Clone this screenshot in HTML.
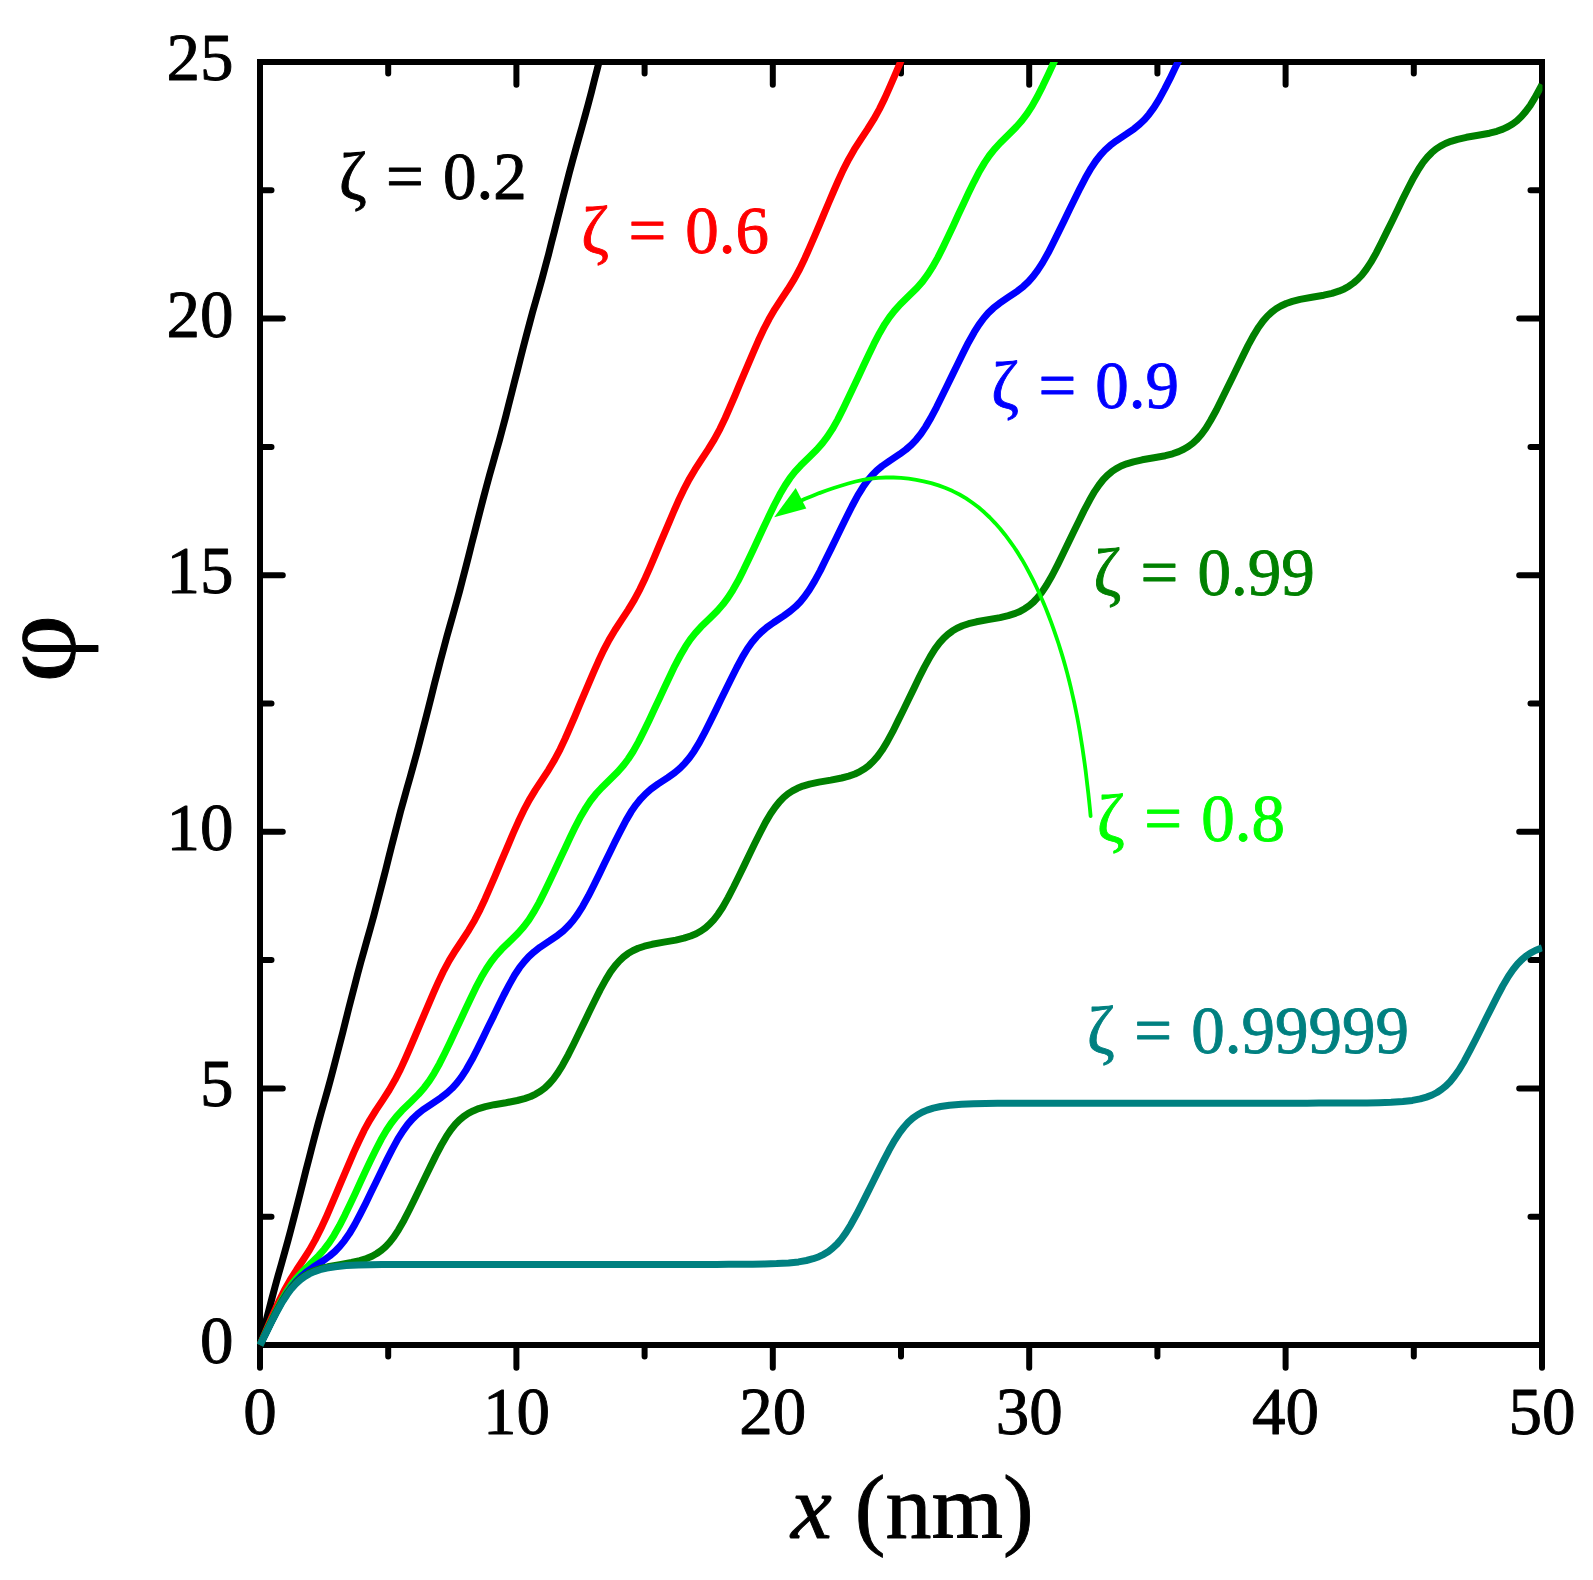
<!DOCTYPE html><html><head><meta charset="utf-8"><title>plot</title><style>html,body{margin:0;padding:0;background:#fff}svg{display:block}</style></head><body><svg width="1593" height="1580" viewBox="0 0 1593 1580">
<rect width="1593" height="1580" fill="#fff"/>
<rect x="260.0" y="62.0" width="1282.0" height="1283.0" fill="none" stroke="#000" stroke-width="6.0" stroke-linejoin="miter" shape-rendering="crispEdges"/>
<path d="M260.0,1345.0 v22.8 M260.0,62.0 v22.8 M388.2,1345.0 v11.5 M388.2,62.0 v11.5 M516.4,1345.0 v22.8 M516.4,62.0 v22.8 M644.6,1345.0 v11.5 M644.6,62.0 v11.5 M772.8,1345.0 v22.8 M772.8,62.0 v22.8 M901.0,1345.0 v11.5 M901.0,62.0 v11.5 M1029.2,1345.0 v22.8 M1029.2,62.0 v22.8 M1157.4,1345.0 v11.5 M1157.4,62.0 v11.5 M1285.6,1345.0 v22.8 M1285.6,62.0 v22.8 M1413.8,1345.0 v11.5 M1413.8,62.0 v11.5 M1542.0,1345.0 v22.8 M1542.0,62.0 v22.8 M260.0,1345.0 h22.8 M1542.0,1345.0 h-22.8 M260.0,1216.7 h11.5 M1542.0,1216.7 h-11.5 M260.0,1088.4 h22.8 M1542.0,1088.4 h-22.8 M260.0,960.1 h11.5 M1542.0,960.1 h-11.5 M260.0,831.8 h22.8 M1542.0,831.8 h-22.8 M260.0,703.5 h11.5 M1542.0,703.5 h-11.5 M260.0,575.2 h22.8 M1542.0,575.2 h-22.8 M260.0,446.9 h11.5 M1542.0,446.9 h-11.5 M260.0,318.6 h22.8 M1542.0,318.6 h-22.8 M260.0,190.3 h11.5 M1542.0,190.3 h-11.5 M260.0,62.0 h22.8 M1542.0,62.0 h-22.8" stroke="#000" stroke-width="6.0" stroke-linecap="round" fill="none"/>
<clipPath id="c"><rect x="257.0" y="62.0" width="1285.5" height="1286.0"/></clipPath>
<g clip-path="url(#c)" fill="none" stroke-linejoin="round" stroke-linecap="butt">
<path d="M260.0,1345.0 L262.9,1333.4 L265.9,1321.7 L268.9,1310.1 L271.9,1298.5 L275.0,1286.9 L278.2,1275.3 L281.5,1263.8 L284.7,1252.2 L287.9,1240.7 L291.0,1229.1 L294.0,1217.5 L297.0,1205.8 L300.0,1194.2 L302.9,1182.6 L305.8,1170.9 L308.8,1159.3 L311.8,1147.7 L314.8,1136.1 L317.9,1124.5 L321.1,1112.9 L324.4,1101.4 L327.7,1089.8 L330.8,1078.3 L333.9,1066.7 L336.9,1055.0 L339.9,1043.4 L342.9,1031.8 L345.8,1020.2 L348.7,1008.5 L351.7,996.9 L354.7,985.3 L357.7,973.7 L360.8,962.1 L364.1,950.5 L367.3,939.0 L370.6,927.4 L373.8,915.8 L376.8,904.2 L379.8,892.6 L382.8,881.0 L385.8,869.4 L388.7,857.7 L391.6,846.1 L394.6,834.5 L397.6,822.9 L400.6,811.2 L403.8,799.7 L407.0,788.1 L410.3,776.6 L413.5,765.0 L416.7,753.4 L419.7,741.8 L422.7,730.2 L425.7,718.6 L428.7,706.9 L431.6,695.3 L434.5,683.7 L437.5,672.1 L440.5,660.4 L443.6,648.8 L446.7,637.2 L449.9,625.7 L453.2,614.1 L456.4,602.6 L459.6,591.0 L462.6,579.4 L465.6,567.8 L468.6,556.2 L471.5,544.5 L474.5,532.9 L477.4,521.3 L480.4,509.6 L483.4,498.0 L486.5,486.4 L489.6,474.8 L492.9,463.3 L496.1,451.7 L499.4,440.2 L502.5,428.6 L505.6,417.0 L508.5,405.4 L511.5,393.7 L514.4,382.1 L517.4,370.5 L520.3,358.8 L523.3,347.2 L526.3,335.6 L529.4,324.0 L532.5,312.4 L535.8,300.9 L539.1,289.3 L542.3,277.8 L545.4,266.2 L548.5,254.6 L551.4,242.9 L554.4,231.3 L557.3,219.7 L560.3,208.0 L563.2,196.4 L566.2,184.8 L569.2,173.2 L572.3,161.6 L575.5,150.0 L578.7,138.5 L582.0,126.9 L585.2,115.3 L588.3,103.8 L591.4,92.1 L594.3,80.5 L597.3,68.9 L600.2,57.3 L603.2,45.6 L606.1,34.0 L606.7,32.0" stroke="#000000" stroke-width="7.0"/>
<path d="M260.0,1345.0 L264.7,1333.9 L269.4,1322.9 L274.1,1311.9 L279.1,1301.0 L284.4,1290.2 L290.1,1280.2 L296.5,1270.0 L303.1,1260.0 L309.6,1249.9 L315.2,1239.9 L320.6,1229.2 L325.7,1218.3 L330.4,1207.3 L335.1,1196.3 L339.8,1185.2 L344.5,1174.2 L349.2,1163.1 L353.9,1152.1 L358.9,1141.2 L364.1,1130.4 L369.7,1120.3 L376.0,1110.1 L382.7,1100.1 L389.2,1090.0 L394.9,1080.1 L400.4,1069.4 L405.4,1058.5 L410.2,1047.5 L414.9,1036.5 L419.6,1025.4 L424.3,1014.4 L429.0,1003.3 L433.7,992.3 L438.6,981.4 L443.8,970.6 L449.3,960.4 L455.6,950.2 L462.2,940.2 L468.8,930.1 L474.6,920.2 L480.1,909.6 L485.2,898.7 L490.0,887.7 L494.8,876.7 L499.4,865.7 L504.1,854.6 L508.8,843.6 L513.5,832.5 L518.4,821.6 L523.6,810.7 L529.2,800.1 L535.4,789.9 L542.0,779.9 L548.6,769.8 L554.5,759.9 L560.1,749.3 L565.2,738.5 L570.0,727.5 L574.8,716.5 L579.4,705.4 L584.1,694.4 L588.8,683.3 L593.5,672.3 L598.4,661.3 L603.5,650.5 L609.1,639.9 L615.0,630.0 L621.6,619.9 L628.2,609.9 L634.4,599.6 L640.0,589.1 L645.2,578.2 L650.0,567.3 L654.8,556.2 L659.4,545.2 L664.1,534.1 L668.8,523.1 L673.5,512.0 L678.3,501.1 L683.5,490.2 L689.0,479.6 L694.9,469.7 L701.4,459.6 L708.0,449.6 L714.3,439.4 L720.0,428.8 L725.2,418.0 L730.0,407.0 L734.8,396.0 L739.4,384.9 L744.1,373.9 L748.8,362.8 L753.5,351.8 L758.3,340.8 L763.4,329.9 L768.9,319.3 L774.7,309.3 L781.2,299.3 L787.9,289.3 L794.2,279.1 L799.7,269.0 L804.9,258.2 L809.8,247.2 L814.6,236.2 L819.3,225.1 L823.9,214.1 L828.6,203.0 L833.3,192.0 L838.1,181.0 L843.1,170.1 L848.6,159.4 L854.3,149.4 L860.8,139.3 L867.4,129.4 L873.8,119.2 L879.4,109.1 L884.7,98.4 L889.6,87.4 L894.4,76.4 L899.1,65.4 L903.7,54.3 L908.4,43.3 L913.1,32.2 L913.2,32.0" stroke="#ff0000" stroke-width="7.0"/>
<path d="M260.0,1345.0 L265.1,1334.1 L270.2,1323.3 L275.4,1312.5 L280.9,1301.8 L286.1,1292.7 L291.1,1285.2 L295.9,1278.8 L301.6,1272.5 L310.2,1264.1 L318.7,1255.6 L324.3,1249.2 L329.1,1242.9 L334.0,1235.3 L339.4,1225.8 L344.9,1215.1 L350.1,1204.2 L355.2,1193.4 L360.2,1182.5 L365.3,1171.6 L370.4,1160.8 L375.7,1150.0 L381.2,1139.3 L386.5,1130.3 L391.2,1123.2 L396.2,1116.9 L401.9,1110.6 L410.5,1102.2 L418.6,1094.1 L424.2,1087.7 L429.3,1080.9 L434.1,1073.3 L439.5,1063.7 L444.9,1053.0 L450.1,1042.2 L455.2,1031.3 L460.3,1020.5 L465.4,1009.6 L470.5,998.7 L475.7,987.9 L481.3,977.3 L486.4,968.7 L491.1,961.7 L496.1,955.4 L501.8,949.1 L510.4,940.7 L518.2,933.0 L523.8,926.6 L528.9,919.8 L533.7,912.2 L539.1,902.6 L544.5,891.9 L549.7,881.1 L554.8,870.2 L559.9,859.3 L565.0,848.5 L570.1,837.6 L575.3,826.8 L580.9,816.2 L586.0,807.6 L590.7,800.5 L595.7,794.2 L601.4,788.0 L610.0,779.6 L617.8,771.8 L623.4,765.4 L628.2,759.0 L633.1,751.5 L638.5,741.9 L643.9,731.2 L649.1,720.4 L654.2,709.5 L659.3,698.7 L664.4,687.8 L669.5,676.9 L674.7,666.1 L680.3,655.5 L685.6,646.4 L690.3,639.4 L695.3,633.1 L701.0,626.8 L709.6,618.4 L717.4,610.7 L723.0,604.3 L727.8,597.9 L732.7,590.3 L738.1,580.8 L743.5,570.1 L748.7,559.2 L753.8,548.4 L758.9,537.5 L764.0,526.6 L769.1,515.8 L774.3,505.0 L779.9,494.3 L785.2,485.3 L789.9,478.2 L794.8,471.9 L800.6,465.6 L809.1,457.3 L816.9,449.5 L822.5,443.1 L827.4,436.7 L832.3,429.2 L837.7,419.6 L843.1,408.9 L848.3,398.1 L853.4,387.3 L858.5,376.4 L863.6,365.5 L868.7,354.7 L873.9,343.9 L879.5,333.2 L884.8,324.1 L889.5,317.1 L894.4,310.8 L900.1,304.5 L908.7,296.1 L916.9,288.0 L922.5,281.6 L927.5,274.8 L932.4,267.2 L937.8,257.6 L943.2,246.9 L948.4,236.1 L953.5,225.2 L958.5,214.3 L963.6,203.5 L968.7,192.6 L974.0,181.8 L979.5,171.2 L984.6,162.6 L989.4,155.5 L994.3,149.3 L1000.1,143.0 L1008.7,134.6 L1016.4,126.8 L1022.0,120.4 L1027.1,113.6 L1032.0,106.1 L1037.4,96.5 L1042.8,85.8 L1048.0,74.9 L1053.1,64.1 L1058.2,53.2 L1063.2,42.3 L1068.1,32.1" stroke="#00ff00" stroke-width="7.0"/>
<path d="M260.0,1345.0 L265.3,1334.2 L270.5,1323.4 L275.9,1312.7 L281.6,1302.1 L286.8,1293.6 L291.4,1287.1 L295.9,1281.7 L300.9,1276.7 L306.2,1272.2 L313.1,1267.3 L323.2,1260.7 L329.6,1256.0 L334.9,1251.5 L339.8,1246.4 L344.5,1240.6 L349.4,1233.6 L354.7,1224.6 L360.3,1214.0 L365.7,1203.3 L370.9,1192.5 L376.2,1181.7 L381.4,1170.9 L386.7,1160.1 L392.2,1149.4 L397.9,1138.9 L403.0,1130.9 L407.7,1124.4 L412.3,1119.1 L417.4,1114.3 L422.8,1109.9 L431.1,1104.3 L441.1,1097.6 L447.0,1093.0 L452.1,1088.3 L456.8,1083.1 L461.4,1077.1 L466.3,1069.6 L472.0,1059.6 L477.5,1048.9 L482.8,1038.1 L488.0,1027.3 L493.3,1016.6 L498.5,1005.8 L503.8,995.0 L509.4,984.4 L514.8,974.8 L519.5,967.7 L524.1,961.8 L528.8,956.6 L534.0,951.9 L539.9,947.3 L549.9,940.7 L557.7,935.3 L563.2,930.9 L568.2,926.1 L572.9,920.8 L577.6,914.4 L582.7,906.3 L588.5,895.8 L593.9,885.1 L599.2,874.4 L604.4,863.6 L609.7,852.8 L614.9,842.0 L620.3,831.3 L625.9,820.6 L631.2,811.6 L636.1,804.6 L640.8,798.8 L645.6,793.8 L650.9,789.2 L657.8,784.2 L667.8,777.6 L674.8,772.6 L680.1,768.1 L685.0,763.1 L689.5,757.7 L694.1,751.2 L699.3,742.7 L704.9,732.1 L710.3,721.4 L715.6,710.6 L720.8,699.8 L726.1,689.0 L731.4,678.2 L736.8,667.5 L742.5,656.9 L747.4,648.8 L752.0,642.3 L756.5,636.9 L761.4,632.0 L766.8,627.4 L773.7,622.5 L783.7,615.9 L790.2,611.2 L795.5,606.7 L800.4,601.7 L804.8,596.3 L809.4,589.7 L814.6,581.1 L820.3,570.6 L825.6,559.8 L830.9,549.1 L836.2,538.3 L841.4,527.5 L846.7,516.7 L852.1,506.0 L857.8,495.4 L862.8,487.3 L867.4,480.8 L871.9,475.5 L876.8,470.5 L882.2,466.0 L889.6,460.8 L899.6,454.2 L906.0,449.5 L911.3,444.9 L916.1,439.8 L920.8,434.0 L925.6,426.9 L930.9,417.9 L936.5,407.3 L941.8,396.5 L947.1,385.7 L952.4,374.9 L957.6,364.2 L962.9,353.4 L968.3,342.7 L974.2,332.2 L979.0,324.6 L983.7,318.2 L988.3,312.9 L993.4,308.1 L999.3,303.4 L1008.4,297.2 L1017.5,291.1 L1023.4,286.4 L1028.5,281.6 L1033.1,276.4 L1037.6,270.4 L1042.5,262.9 L1048.2,252.8 L1053.6,242.2 L1058.9,231.4 L1064.2,220.6 L1069.4,209.8 L1074.7,199.0 L1080.0,188.3 L1085.6,177.6 L1091.1,168.1 L1095.8,161.0 L1100.4,155.1 L1105.1,150.0 L1110.3,145.3 L1116.3,140.8 L1126.3,134.2 L1134.1,128.8 L1139.6,124.3 L1144.6,119.5 L1149.1,114.2 L1153.9,107.7 L1158.9,99.6 L1164.6,89.1 L1170.1,78.4 L1175.3,67.6 L1180.6,56.8 L1185.8,46.1 L1191.1,35.3 L1192.7,32.1" stroke="#0000ff" stroke-width="7.0"/>
<path d="M260.0,1345.0 L265.2,1334.2 L270.5,1323.4 L275.9,1312.7 L281.6,1302.2 L286.4,1294.5 L290.8,1288.5 L295.1,1283.6 L299.4,1279.5 L303.8,1276.2 L308.6,1273.3 L314.0,1270.8 L320.1,1268.7 L327.9,1266.8 L339.7,1264.6 L351.5,1262.5 L359.8,1260.6 L366.5,1258.5 L372.0,1256.2 L376.8,1253.5 L381.3,1250.4 L385.4,1246.8 L389.6,1242.4 L393.9,1236.9 L398.5,1229.8 L404.0,1220.2 L409.5,1209.5 L414.8,1198.8 L420.0,1188.0 L425.2,1177.2 L430.5,1166.4 L435.8,1155.6 L441.4,1145.0 L446.4,1136.4 L450.9,1129.7 L455.3,1124.3 L459.5,1120.0 L463.7,1116.5 L468.3,1113.4 L473.1,1110.9 L478.7,1108.6 L485.4,1106.6 L494.2,1104.7 L506.0,1102.7 L517.3,1100.5 L524.6,1098.6 L530.7,1096.5 L535.7,1094.1 L540.4,1091.3 L544.8,1088.0 L549.1,1083.9 L553.4,1079.0 L557.8,1072.9 L562.5,1065.3 L568.3,1054.7 L573.7,1044.0 L578.9,1033.2 L584.2,1022.4 L589.4,1011.6 L594.7,1000.8 L600.0,990.1 L605.8,979.6 L610.5,971.9 L615.0,965.9 L619.3,961.0 L623.6,956.9 L628.0,953.6 L632.8,950.8 L638.2,948.3 L644.4,946.2 L652.1,944.3 L663.9,942.1 L675.8,940.1 L684.0,938.2 L690.7,936.0 L696.2,933.7 L701.0,931.0 L705.5,927.8 L709.6,924.2 L713.7,919.8 L718.0,914.3 L722.7,907.2 L728.1,897.6 L733.6,887.0 L738.9,876.2 L744.2,865.4 L749.4,854.6 L754.6,843.8 L760.0,833.0 L765.5,822.4 L770.6,813.8 L775.1,807.2 L779.5,801.7 L783.7,797.4 L787.9,793.9 L792.5,790.9 L797.4,788.3 L802.9,786.1 L809.6,784.1 L818.9,782.1 L830.8,780.1 L841.6,778.0 L848.8,776.1 L854.9,774.0 L859.9,771.6 L864.6,768.8 L869.0,765.4 L873.3,761.3 L877.6,756.4 L882.0,750.3 L887.0,742.2 L892.7,731.7 L898.0,720.9 L903.3,710.2 L908.5,699.4 L913.8,688.6 L919.0,677.8 L924.4,667.1 L930.2,656.6 L935.0,648.9 L939.5,642.9 L943.8,638.1 L947.9,634.4 L952.3,631.1 L957.0,628.3 L962.5,625.8 L968.6,623.7 L976.4,621.8 L988.2,619.6 L1000.0,617.6 L1008.3,615.7 L1014.5,613.7 L1020.0,611.4 L1024.8,608.7 L1029.3,605.6 L1033.5,602.0 L1037.6,597.6 L1041.9,592.1 L1046.6,585.0 L1052.1,575.5 L1057.6,564.8 L1062.9,554.0 L1068.1,543.2 L1073.3,532.4 L1078.6,521.7 L1083.9,510.9 L1089.5,500.3 L1094.5,491.6 L1099.0,485.0 L1103.3,479.5 L1107.5,475.2 L1111.7,471.7 L1116.3,468.6 L1121.1,466.0 L1126.7,463.8 L1133.4,461.8 L1142.2,459.8 L1154.0,457.8 L1165.3,455.7 L1172.6,453.8 L1178.7,451.6 L1183.7,449.3 L1188.4,446.5 L1192.8,443.2 L1197.2,439.1 L1201.5,434.2 L1205.9,428.2 L1210.6,420.5 L1216.4,410.0 L1221.7,399.3 L1227.0,388.5 L1232.3,377.7 L1237.5,366.9 L1242.8,356.1 L1248.1,345.4 L1253.9,334.8 L1258.6,327.2 L1263.0,321.1 L1267.3,316.2 L1271.7,312.1 L1276.1,308.8 L1280.8,306.0 L1286.2,303.5 L1292.4,301.4 L1300.1,299.4 L1311.9,297.3 L1323.8,295.2 L1332.0,293.3 L1338.7,291.2 L1344.2,288.9 L1349.0,286.2 L1353.5,283.0 L1357.7,279.4 L1361.8,275.1 L1366.1,269.5 L1370.8,262.4 L1376.2,252.9 L1381.7,242.2 L1387.0,231.4 L1392.3,220.7 L1397.5,209.9 L1402.7,199.1 L1408.1,188.3 L1413.6,177.7 L1418.7,169.0 L1423.1,162.4 L1427.5,157.0 L1431.7,152.7 L1435.9,149.1 L1440.5,146.1 L1445.4,143.5 L1450.9,141.3 L1457.6,139.3 L1466.4,137.3 L1478.2,135.3 L1489.5,133.2 L1496.8,131.3 L1502.9,129.1 L1507.9,126.8 L1512.6,124.0 L1517.0,120.7 L1521.4,116.5 L1525.6,111.6 L1530.1,105.6 L1534.8,97.9 L1540.5,87.4 L1542.0,84.5" stroke="#008000" stroke-width="7.0"/>
<path d="M260.0,1345.0 L265.4,1334.3 L270.8,1323.5 L276.3,1312.9 L282.1,1302.4 L287.0,1294.8 L291.4,1288.8 L295.8,1284.0 L300.2,1279.9 L304.6,1276.6 L309.3,1273.9 L314.4,1271.6 L320.0,1269.7 L326.8,1268.0 L335.2,1266.7 L346.2,1265.6 L358.2,1265.0 L370.2,1264.7 L382.2,1264.6 L394.2,1264.5 L406.2,1264.4 L418.2,1264.4 L430.2,1264.4 L442.2,1264.4 L454.2,1264.4 L466.2,1264.4 L478.2,1264.4 L490.2,1264.4 L502.2,1264.4 L514.2,1264.4 L526.2,1264.4 L538.2,1264.4 L550.2,1264.4 L561.7,1264.4 L573.2,1264.4 L584.7,1264.4 L596.7,1264.4 L608.7,1264.4 L620.7,1264.4 L632.7,1264.4 L644.7,1264.4 L656.7,1264.4 L668.7,1264.4 L680.7,1264.4 L692.7,1264.4 L704.7,1264.4 L716.7,1264.4 L728.7,1264.3 L740.7,1264.3 L752.7,1264.2 L764.7,1264.0 L776.6,1263.6 L788.6,1262.9 L798.6,1261.9 L806.4,1260.5 L813.2,1258.7 L818.9,1256.7 L823.8,1254.3 L828.5,1251.4 L832.8,1248.0 L837.2,1243.9 L841.4,1239.0 L845.8,1232.9 L850.8,1224.8 L856.6,1214.3 L862.1,1203.6 L867.5,1192.9 L872.8,1182.2 L878.2,1171.4 L883.6,1160.7 L889.1,1150.1 L894.8,1140.1 L899.7,1132.5 L904.0,1127.0 L908.3,1122.2 L912.8,1118.2 L917.3,1115.0 L922.1,1112.3 L927.1,1110.1 L933.3,1108.1 L940.6,1106.5 L949.5,1105.2 L961.5,1104.2 L973.5,1103.7 L985.5,1103.4 L997.5,1103.3 L1009.5,1103.2 L1021.5,1103.2 L1033.5,1103.2 L1045.5,1103.2 L1057.5,1103.2 L1069.5,1103.2 L1081.5,1103.2 L1093.5,1103.2 L1105.5,1103.2 L1117.5,1103.2 L1129.5,1103.2 L1141.5,1103.2 L1153.5,1103.2 L1165.0,1103.2 L1176.5,1103.2 L1188.0,1103.2 L1199.5,1103.2 L1211.0,1103.2 L1223.0,1103.2 L1235.0,1103.2 L1247.0,1103.2 L1259.0,1103.2 L1271.0,1103.2 L1283.0,1103.2 L1295.0,1103.2 L1307.0,1103.2 L1319.0,1103.1 L1331.0,1103.1 L1343.0,1103.1 L1355.0,1103.0 L1367.0,1102.9 L1379.0,1102.7 L1391.0,1102.3 L1402.9,1101.5 L1412.4,1100.4 L1420.2,1098.9 L1426.5,1097.1 L1432.1,1095.0 L1437.0,1092.5 L1441.6,1089.4 L1445.8,1086.0 L1450.1,1081.7 L1454.5,1076.3 L1459.1,1069.8 L1464.5,1060.7 L1470.1,1050.2 L1475.6,1039.5 L1481.0,1028.7 L1486.3,1018.0 L1491.7,1007.3 L1497.1,996.6 L1502.7,986.0 L1508.3,976.5 L1513.1,969.5 L1517.5,964.0 L1521.7,959.7 L1525.9,956.2 L1530.4,953.1 L1535.3,950.5 L1540.8,948.3 L1542.0,947.9" stroke="#008080" stroke-width="7.0"/>
</g>
<path d="M1090.6,816.0 L1089.9,808.4 L1089.1,800.8 L1088.3,793.2 L1087.4,785.7 L1086.5,778.1 L1085.6,770.5 L1084.6,762.9 L1083.5,755.4 L1082.4,747.8 L1081.2,740.3 L1080.0,732.8 L1078.7,725.2 L1077.3,717.7 L1075.8,710.2 L1074.3,702.8 L1072.6,695.3 L1070.9,687.9 L1069.1,680.5 L1067.2,673.1 L1065.2,665.7 L1063.1,658.4 L1060.9,651.1 L1058.6,643.8 L1056.2,636.6 L1053.7,629.3 L1051.1,622.2 L1048.4,615.0 L1045.6,607.9 L1042.7,600.9 L1039.6,593.9 L1036.4,587.0 L1033.1,580.1 L1029.6,573.3 L1026.0,566.6 L1022.2,559.9 L1018.2,553.4 L1014.0,547.0 L1009.6,540.8 L1005.0,534.7 L1000.2,528.8 L995.1,523.1 L989.8,517.5 L984.3,512.3 L978.5,507.3 L972.4,502.7 L966.1,498.4 L959.5,494.5 L952.7,491.1 L945.6,488.0 L938.5,485.4 L931.2,483.1 L923.7,481.3 L916.3,479.8 L908.7,478.7 L901.1,477.9 L893.5,477.5 L885.8,477.5 L878.2,477.8 L870.6,478.6 L863.1,479.8 L855.6,481.5 L848.3,483.5 L840.9,485.7 L833.7,488.0 L826.4,490.5 L819.3,493.1 L812.2,495.9 L805.2,498.8 L798.2,502.0" fill="none" stroke="#00ff00" stroke-width="3.8" stroke-linecap="round" stroke-linejoin="round"/>
<path d="M774.2,517.2 L795.7,488.1 L806.3,508.4 Z" fill="#00ff00"/>
<text x="260.0" y="1433.7" font-size="67" text-anchor="middle" stroke="#000" font-family="Liberation Serif, serif" stroke-width="0.9" stroke-linejoin="round">0</text>
<text x="516.4" y="1433.7" font-size="67" text-anchor="middle" stroke="#000" font-family="Liberation Serif, serif" stroke-width="0.9" stroke-linejoin="round">10</text>
<text x="772.8" y="1433.7" font-size="67" text-anchor="middle" stroke="#000" font-family="Liberation Serif, serif" stroke-width="0.9" stroke-linejoin="round">20</text>
<text x="1029.2" y="1433.7" font-size="67" text-anchor="middle" stroke="#000" font-family="Liberation Serif, serif" stroke-width="0.9" stroke-linejoin="round">30</text>
<text x="1285.6" y="1433.7" font-size="67" text-anchor="middle" stroke="#000" font-family="Liberation Serif, serif" stroke-width="0.9" stroke-linejoin="round">40</text>
<text x="1542.0" y="1433.7" font-size="67" text-anchor="middle" stroke="#000" font-family="Liberation Serif, serif" stroke-width="0.9" stroke-linejoin="round">50</text>
<text x="233.5" y="1363.0" font-size="67" text-anchor="end" stroke="#000" font-family="Liberation Serif, serif" stroke-width="0.9" stroke-linejoin="round">0</text>
<text x="233.5" y="1106.4" font-size="67" text-anchor="end" stroke="#000" font-family="Liberation Serif, serif" stroke-width="0.9" stroke-linejoin="round">5</text>
<text x="233.5" y="849.8" font-size="67" text-anchor="end" stroke="#000" font-family="Liberation Serif, serif" stroke-width="0.9" stroke-linejoin="round">10</text>
<text x="233.5" y="593.2" font-size="67" text-anchor="end" stroke="#000" font-family="Liberation Serif, serif" stroke-width="0.9" stroke-linejoin="round">15</text>
<text x="233.5" y="336.6" font-size="67" text-anchor="end" stroke="#000" font-family="Liberation Serif, serif" stroke-width="0.9" stroke-linejoin="round">20</text>
<text x="233.5" y="80.0" font-size="67" text-anchor="end" stroke="#000" font-family="Liberation Serif, serif" stroke-width="0.9" stroke-linejoin="round">25</text>
<text x="791" y="1537.7" font-size="92" stroke="#000" font-family="Liberation Serif, serif" stroke-width="0.9" stroke-linejoin="round"><tspan font-style="italic">x</tspan> (nm)</text>
<text transform="translate(75,648.5) rotate(-90) scale(1.07,1)" font-size="110" text-anchor="middle" stroke="#000" font-family="Liberation Serif, serif" stroke-width="0.9" stroke-linejoin="round">φ</text>
<text x="338.9" y="198.8" font-size="67" fill="#000000" stroke="#000000" font-family="Liberation Serif, serif" stroke-width="0.9" stroke-linejoin="round">ζ <tspan dx="2.7">=</tspan> <tspan dx="2.4">0.2</tspan></text>
<text x="581.2" y="252.8" font-size="67" fill="#ff0000" stroke="#ff0000" font-family="Liberation Serif, serif" stroke-width="0.9" stroke-linejoin="round">ζ <tspan dx="2.7">=</tspan> <tspan dx="2.4">0.6</tspan></text>
<text x="991.2" y="408.3" font-size="67" fill="#0000ff" stroke="#0000ff" font-family="Liberation Serif, serif" stroke-width="0.9" stroke-linejoin="round">ζ <tspan dx="2.7">=</tspan> <tspan dx="2.4">0.9</tspan></text>
<text x="1093.4" y="594.9" font-size="67" fill="#008000" stroke="#008000" font-family="Liberation Serif, serif" stroke-width="0.9" stroke-linejoin="round">ζ <tspan dx="2.7">=</tspan> <tspan dx="2.4">0.99</tspan></text>
<text x="1097.0" y="841.4" font-size="67" fill="#00ff00" stroke="#00ff00" font-family="Liberation Serif, serif" stroke-width="0.9" stroke-linejoin="round">ζ <tspan dx="2.7">=</tspan> <tspan dx="2.4">0.8</tspan></text>
<text x="1087.0" y="1052.5" font-size="67" fill="#008080" stroke="#008080" font-family="Liberation Serif, serif" stroke-width="0.9" stroke-linejoin="round">ζ <tspan dx="2.7">=</tspan> <tspan dx="2.4">0.99999</tspan></text>
</svg></body></html>
